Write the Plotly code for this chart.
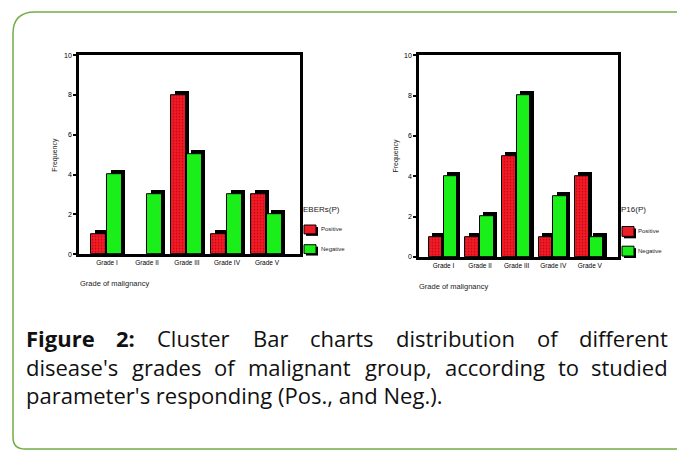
import plotly.graph_objects as go

# ---------------- data ----------------
grades = ["Grade I", "Grade II", "Grade III", "Grade IV", "Grade V"]
ebers_positive = [1, 0, 8, 1, 3]
ebers_negative = [4, 3, 5, 3, 2]
p16_positive = [1, 1, 5, 1, 4]
p16_negative = [4, 2, 8, 3, 1]
y_ticks = [0, 2, 4, 6, 8, 10]
legend_titles = ["EBERs(P)", "P16(P)"]
series_names = ["Positive", "Negative"]

W, H = 677, 453
RED = "#ee1c25"
RED_DOT = "#c4000f"
GREEN = "#1aef1a"
BORDER = "#72ad47"
FONT = "Liberation Sans"


def fx(px):
    return px / W


def fy(py):
    return 1 - py / H


fig = go.Figure()

SHADOW_DX = 0.09
SHADOW_DY = 0.2
BAR_W = 0.37


def add_group(values, color, offset, name, xa, ya, pattern):
    shadow = [v + SHADOW_DY if v > 0 else 0 for v in values]
    fig.add_trace(go.Bar(
        x=grades, y=shadow, width=BAR_W, offset=offset + SHADOW_DX,
        marker=dict(color="black", line=dict(width=0)),
        xaxis=xa, yaxis=ya, showlegend=False, hoverinfo="skip"))
    m = dict(color=color,
             line=dict(color="black", width=[1 if v > 0 else 0 for v in values]))
    if pattern:
        m["pattern"] = dict(shape=".", fgcolor=RED_DOT, bgcolor=color,
                            size=3, solidity=0.2, fillmode="replace")
    fig.add_trace(go.Bar(
        x=grades, y=values, width=BAR_W, offset=offset, name=name,
        marker=m, xaxis=xa, yaxis=ya, showlegend=False))


add_group(ebers_positive, RED, -0.40, "Positive", "x", "y", True)
add_group(ebers_negative, GREEN, 0.0, "Negative", "x", "y", False)
add_group(p16_positive, RED, -0.40, "Positive", "x2", "y2", True)
add_group(p16_negative, GREEN, 0.0, "Negative", "x2", "y2", False)

axis_common = dict(showline=True, linecolor="black", linewidth=2.5,
                   mirror=True, showgrid=False, zeroline=False)

fig.update_layout(
    width=W, height=H, autosize=False,
    margin=dict(l=0, r=0, t=0, b=0),
    paper_bgcolor="white", plot_bgcolor="white",
    barmode="overlay", bargap=0,
    xaxis=dict(domain=[fx(79), fx(300)], anchor="y", range=[-0.7, 4.825],
               ticks="", tickfont=dict(family=FONT, size=6.5, color="#000"),
               **axis_common),
    yaxis=dict(domain=[fy(254), fy(52)], anchor="x", range=[0, 10],
               tickvals=y_ticks, ticks="outside", ticklen=3, tickwidth=1.5,
               tickcolor="black",
               tickfont=dict(family=FONT, size=7, color="#000"),
               **axis_common),
    xaxis2=dict(domain=[fx(419), fx(618)], anchor="y2", range=[-0.67, 4.77],
                ticks="", tickfont=dict(family=FONT, size=6.5, color="#000"),
                **axis_common),
    yaxis2=dict(domain=[fy(257), fy(52)], anchor="x2", range=[0, 10],
                tickvals=y_ticks, ticks="outside", ticklen=3, tickwidth=1.5,
                tickcolor="black",
                tickfont=dict(family=FONT, size=7, color="#000"),
                **axis_common),
)

ann = []
shapes = []


def text(x, y, s, size, xanchor="left", angle=0, family=FONT, color="#222"):
    ann.append(dict(x=fx(x), y=fy(y), xref="paper", yref="paper", text=s,
                    showarrow=False, xanchor=xanchor, yanchor="middle",
                    textangle=angle, borderpad=0,
                    font=dict(family=family, size=size, color=color)))


# axis titles
text(55, 153, "Frequency", 7, xanchor="center", angle=-90)
text(79, 284, "Grade of malignancy", 7.5)
text(396, 154, "Frequency", 7, xanchor="center", angle=-90)
text(418, 287, "Grade of malignancy", 7.5)


def rect(x0, y0, x1, y1, fill, line_w=0):
    shapes.append(dict(type="rect", xref="paper", yref="paper",
                       x0=fx(x0), x1=fx(x1), y0=fy(y1), y1=fy(y0),
                       fillcolor=fill,
                       line=dict(color="black", width=line_w)))


def legend(x, y_title, title, y_pos, y_neg, box_w, box_h, tx):
    text(x, y_title, title, 8)
    for yy, col, nm in [(y_pos, RED, series_names[0]),
                        (y_neg, GREEN, series_names[1])]:
        rect(x + 2 + 2, yy - box_h / 2 + 2, x + 2 + box_w + 2, yy + box_h / 2 + 2, "black")
        rect(x + 2, yy - box_h / 2, x + 2 + box_w, yy + box_h / 2, col, 1)
        text(tx, yy, nm, 6)


legend(302, 209, legend_titles[0], 229, 249, 12, 9, 320)
legend(620, 209, legend_titles[1], 231, 251, 12, 10, 637)

# green rounded border
r = 22
path = (f"M {fx(700)},{fy(8)} L {fx(13 + r)},{fy(8)} "
        f"Q {fx(13)},{fy(8)} {fx(13)},{fy(8 + r)} "
        f"L {fx(13)},{fy(440)} Q {fx(13)},{fy(452)} {fx(25)},{fy(452)} "
        f"L {fx(700)},{fy(452)}")
shapes.append(dict(type="path", xref="paper", yref="paper", path=path,
                   line=dict(color=BORDER, width=1.5)))

# ---------------- caption (justified) ----------------
CAP_FONT = "Open Sans"
CAP_SIZE = 22
CAP_COLOR = "#111"
CAP_LEFT, CAP_RIGHT = 25, 669

# approximate Open Sans advance widths (em)
EM = {"a": .56, "b": .61, "c": .48, "d": .61, "e": .56, "f": .34, "g": .55,
      "h": .61, "i": .26, "l": .26, "m": .93, "n": .61, "o": .60, "p": .61,
      "r": .41, "s": .48, "t": .35, "u": .61, "y": .50, "'": .24, ",": .25,
      ".": .26, "(": .30, ")": .30, "C": .63, "B": .65, "F": .55, "N": .75,
      "P": .59, "2": .57, ":": .27}
BOLD_EM = {"F": .56, "i": .30, "g": .56, "u": .66, "r": .47, "e": .60,
           "2": .57, ":": .29}


def word_w(word, bold=False):
    tbl = BOLD_EM if bold else EM
    return sum(tbl.get(c, .56) for c in word) * CAP_SIZE


def justified(words, y, bold_first=0):
    widths = [word_w(w, i < bold_first) for i, w in enumerate(words)]
    gap = (CAP_RIGHT - CAP_LEFT - sum(widths)) / (len(words) - 1)
    x = CAP_LEFT
    for i, (w, ww) in enumerate(zip(words, widths)):
        label = f"<b>{w}</b>" if i < bold_first else w
        if i == 0:
            text(CAP_LEFT, y, label, CAP_SIZE, family=CAP_FONT, color=CAP_COLOR)
        elif i == len(words) - 1:
            text(CAP_RIGHT, y, label, CAP_SIZE, xanchor="right",
                 family=CAP_FONT, color=CAP_COLOR)
        else:
            text(x + ww / 2, y, label, CAP_SIZE, xanchor="center",
                 family=CAP_FONT, color=CAP_COLOR)
        x += ww + gap


caption_line1 = ["Figure", "2:", "Cluster", "Bar", "charts", "distribution",
                 "of", "different"]
caption_line2 = ["disease's", "grades", "of", "malignant", "group,",
                 "according", "to", "studied"]
caption_line3 = "parameter's responding (Pos., and Neg.)."

justified(caption_line1, 339.3, bold_first=2)
justified(caption_line2, 368.3)
text(CAP_LEFT, 397.3, caption_line3, CAP_SIZE, family=CAP_FONT, color=CAP_COLOR)

fig.update_layout(annotations=ann, shapes=shapes)
fig.write_html("out.html",
               config={"displayModeBar": False},
               post_script="document.body.style.margin='0';"
                           "document.body.style.overflow='hidden';")
